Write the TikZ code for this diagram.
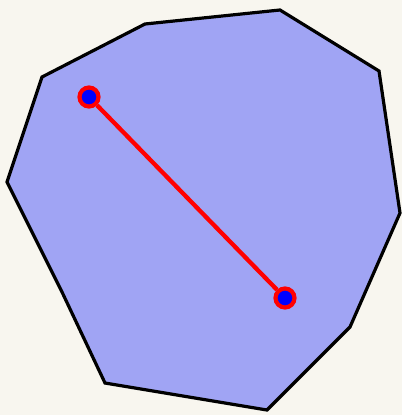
\documentclass[tikz,border=0pt]{standalone}
\definecolor{sfondo}{HTML}{F8F6EF}
\definecolor{lilla}{HTML}{A0A4F4}
\begin{document}
\begin{tikzpicture}[
    x=1pt, y=-1pt,   % coordinate in pixel, asse y verso il basso
    poligono/.style={draw=black, fill=lilla, line width=3.2pt, line join=miter},
    segmento/.style={draw=red, line width=4.3pt},
    punto/.style={circle, fill=blue, draw=red, line width=4.2pt, inner sep=0pt, minimum size=19pt}
]

    % =========================================================================
    % Sfondo
    % =========================================================================
    \fill[sfondo] (0,0) rectangle (402,415);
    \useasboundingbox (0,0) rectangle (402,415);

    % Poligono convesso
    \draw[poligono] (145,24) -- (280,10) -- (379,71) -- (400,213) -- (350,327)
        -- (267,410) -- (105,383) -- (62,292) -- (7,182) -- (42,77) -- cycle;

    % Estremi del segmento
    \node[punto] (P1) at (89,97) {};
    \node[punto] (P2) at (285,298) {};

    % Segmento tra i due punti
    \draw[segmento] (P1) -- (P2);

\end{tikzpicture}
\end{document}
